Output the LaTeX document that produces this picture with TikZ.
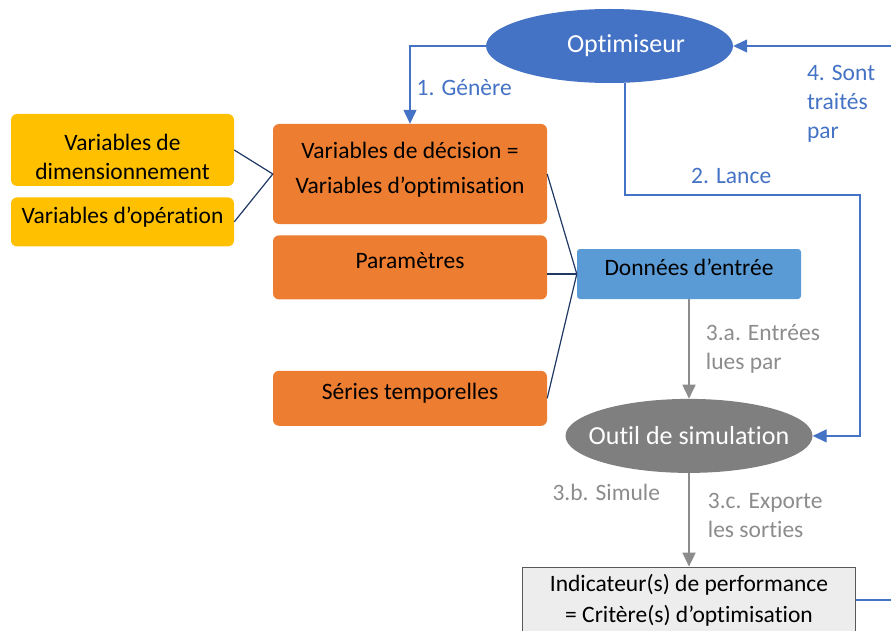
\documentclass[tikz,border=0pt]{standalone}
\usepackage{fontspec}
\setmainfont{Carlito}[Ligatures=NoCommon]
\usetikzlibrary{shapes.geometric,arrows.meta,positioning}

\definecolor{optblue}{HTML}{4472C4}
\definecolor{inblue}{HTML}{5B9BD5}
\definecolor{varyellow}{HTML}{FFC000}
\definecolor{varorange}{HTML}{ED7D31}
\definecolor{simgray}{HTML}{7F7F7F}
\definecolor{labgray}{HTML}{8C8C8C}
\definecolor{navy}{HTML}{1F3864}
\definecolor{indfill}{HTML}{EDEDED}
\definecolor{indline}{HTML}{595959}

\begin{document}
\begin{tikzpicture}[
  x=1pt, y=-1pt,
  >={Triangle[width=13pt,length=14pt]},
  boxtext/.style={font=\fontsize{23.5}{29}\selectfont, align=center, inner sep=0pt},
  varbox/.style={
    rectangle, rounded corners=6pt, fill=#1,
    minimum width=274pt, boxtext
  },
  varbox/.default=varorange,
  ellipsebox/.style={
    ellipse, fill=#1, text=white,
    minimum width=247pt, minimum height=74pt,
    inner xsep=-40pt, inner ysep=0pt,
    font=\fontsize{26}{31}\selectfont
  },
  oneline/.style={text height=11pt, text depth=8pt},
  link/.style={->, line width=1.3pt, optblue},
  flow/.style={->, line width=1.8pt, simgray!90},
  joint/.style={line width=1.2pt, navy},
  elabel/.style={font=\fontsize{23.5}{29}\selectfont, align=left, inner sep=2pt},
]
  \useasboundingbox (0,0) rectangle (891,631);
  \clip (0,0) rectangle (891,631);

  % Optimiser
  \node[ellipsebox=optblue] (opt) at (609.5,46) {\hspace*{33pt}Optimiseur};

  % Orange column
  \node[varbox, minimum height=100pt, text depth=12pt] (dec) at (410,174) {Variables de décision =\\[6pt]Variables d’optimisation};
  \node[varbox, oneline, minimum height=64pt] (param) [below=11pt of dec] {Paramètres};
  \node[varbox, oneline, minimum height=55pt] (series) [below=71pt of param] {Séries temporelles};

  % Yellow column
  \node[varbox=varyellow, minimum width=223pt, minimum height=72pt, text height=59pt] (dim) at (122.5,150) {Variables de\\dimensionnement};
  \node[varbox=varyellow, oneline, minimum width=223pt, minimum height=49pt] (oper) [below=11pt of dim] {Variables d’opération};

  % Input data, simulation tool, indicators
  \node[rectangle, rounded corners=3pt, fill=inblue, boxtext, oneline,
        minimum width=224pt, minimum height=50pt] (data) at (689,274) {Données d’entrée};
  \node[ellipsebox=simgray] (sim) [below=99.5pt of data] {Outil de simulation};
  \node[rectangle, draw=indline, fill=indfill, line width=1pt, boxtext,
        minimum width=333pt, minimum height=66pt] (ind) [below=93.5pt of sim]
        {Indicateur(s) de performance\\[2pt]= Critère(s) d’optimisation};

  % Brackets
  \draw[joint] (dim.east) -- (dec.west) -- (oper.east);
  \draw[joint] (dec.east) -- (data.west) -- (series.east);
  \draw[joint] (param.east |- data.west) -- (data.west);

  % Optimiser loop
  \draw[link] (opt.west) -| (dec.north)
    node[elabel, text=optblue, anchor=west, pos=0.77, xshift=4pt] {1. Génère};
  \coordinate (lanceturn) at (860,195);
  \draw[link] ([xshift=15.5pt]opt.south) |- (lanceturn)
    node[elabel, text=optblue, above=9pt, pos=0.726] {2. Lance} |- (sim.east);
  \draw[link] (ind.east) -- ++(50pt,0) |- (opt.east)
    node[elabel, text=optblue, anchor=north west, pos=0.794, yshift=-16.5pt] {4. Sont\\traités\\par};

  % Simulation steps
  \draw[flow] (data) -- (sim)
    node[elabel, text=labgray, anchor=west, pos=0.5, xshift=14pt] {3.a. Entrées\\lues par};
  \draw[flow] (sim) -- (ind)
    node[elabel, text=labgray, anchor=east, pos=0.206, xshift=-26pt] {3.b. Simule}
    node[elabel, text=labgray, anchor=west, pos=0.455, xshift=16pt] {3.c. Exporte\\les sorties};
\end{tikzpicture}
\end{document}
